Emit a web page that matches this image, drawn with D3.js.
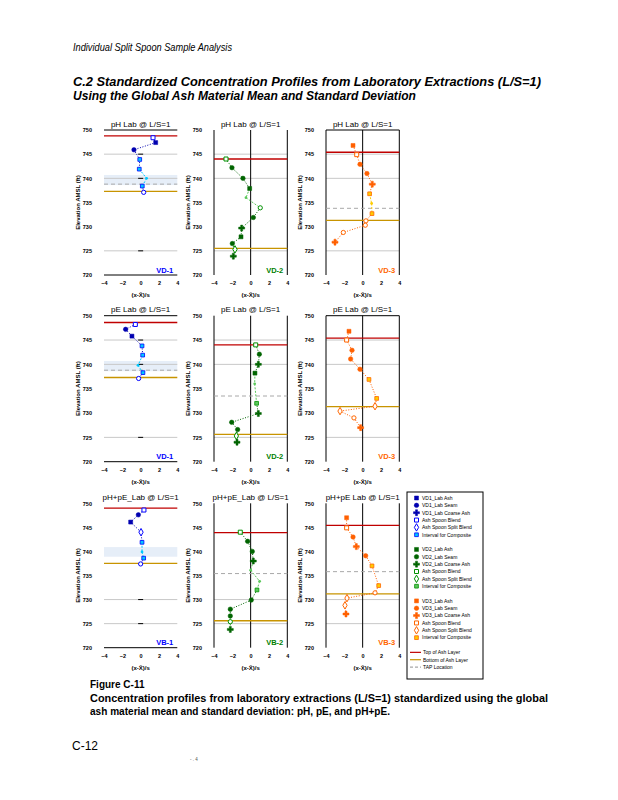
<!DOCTYPE html>
<html><head><meta charset="utf-8">
<script src="https://cdn.jsdelivr.net/npm/d3@7"></script>
<style>
body{margin:0;background:#fff}
svg{display:block}
text{font-family:"Liberation Sans",Arial,sans-serif}
</style>
</head><body><svg id="c" width="618" height="800"></svg>
<script>
// ---------------- DATA ----------------
const panelTitles = ["pH Lab @ L/S=1","pH Lab @ L/S=1","pH Lab @ L/S=1",
                     "pE Lab @ L/S=1","pE Lab @ L/S=1","pE Lab @ L/S=1",
                     "pH+pE_Lab @ L/S=1","pH+pE_Lab @ L/S=1","pH+pE Lab @ L/S=1"];
const panelLabels = ["VD-1","VD-2","VD-3","VD-1","VD-2","VD-3","VB-1","VB-2","VB-3"];
const xTicks = [-4,-2,0,2,4];
const yTicks = [720,725,730,735,740,745,750];
const rowGrid = [[745,740,725],[745,740,725],[730,725]];

// [standardized value, elevation ft, marker type]
const ph_vd1 = [[1.35,748.4,'B'],[1.64,747.4,'A'],[-0.73,745.9,'S'],[-0.1,743.9,'I'],[-0.15,741.9,'I'],[0.65,740.0,'L'],[0.18,738.4,'I'],[0.33,737.1,'O']];
const ph_vd2 = [[-2.69,744.0,'B'],[-2.04,742.2,'S'],[-0.84,740.0,'S'],[-0.11,737.9,'A'],[-0.51,736.0,'L'],[1.05,733.9,'O'],[0.29,731.9,'S'],[-0.98,729.7,'C'],[-1.05,727.9,'A'],[-2.0,726.5,'S'],[-1.71,725.3,'D'],[-1.89,723.9,'C']];
const ph_vd3 = [[-1.05,746.8,'A'],[-0.65,744.9,'B'],[-0.29,742.9,'S'],[0.47,741.0,'S'],[1.05,738.8,'C'],[0.76,736.8,'I'],[0.98,734.8,'L'],[1.02,732.7,'I'],[0.36,731.2,'O'],[0.29,730.3,'O'],[-2.11,728.8,'O'],[-3.02,726.8,'C']];
const pe_vd1 = [[-0.58,748.2,'B'],[-1.64,747.2,'S'],[-0.95,745.8,'A'],[0.15,743.8,'I'],[0.22,741.9,'I'],[-0.29,739.8,'L'],[0.25,738.3,'I'],[-0.22,737.1,'O']];
const pe_vd2 = [[0.55,744.0,'B'],[0.95,742.1,'S'],[0.84,740.0,'C'],[0.47,738.2,'A'],[0.44,736.0,'L'],[0.65,732.0,'I'],[0.84,729.9,'C'],[-2.07,728.1,'S'],[-1.42,726.6,'S'],[-1.56,725.3,'D'],[-1.49,724.0,'C']];
const pe_vd3 = [[-1.49,746.8,'A'],[-1.75,745.0,'B'],[-1.16,742.9,'S'],[-1.31,741.1,'S'],[-0.29,739.0,'S'],[0.69,736.9,'I'],[1.53,733.0,'I'],[1.35,731.4,'D'],[-2.47,730.4,'D'],[-0.95,729.0,'O'],[-0.22,727.0,'C']];
const pp_vb1 = [[0.36,748.6,'B'],[-0.25,747.6,'S'],[-1.09,746.1,'A'],[0.04,744.0,'D'],[0.15,741.9,'I'],[0.15,739.9,'L'],[0.33,738.6,'I'],[0.0,737.4,'O']];
const pp_vb2 = [[-1.13,744.0,'B'],[-0.33,742.1,'S'],[0.18,740.0,'S'],[0.29,738.0,'C'],[0.0,736.1,'L'],[0.98,733.8,'L'],[0.69,732.0,'I'],[0.07,729.9,'S'],[-2.22,728.0,'S'],[-2.22,726.6,'S'],[-2.22,725.4,'O'],[-2.22,723.8,'C']];
const pp_vb3 = [[-1.75,747.0,'A'],[-1.75,744.9,'B'],[-1.05,743.0,'S'],[-0.69,741.0,'C'],[0.33,739.1,'S'],[1.02,737.0,'I'],[1.75,732.9,'I'],[1.35,731.4,'O'],[-1.71,730.3,'D'],[-1.93,728.8,'D'],[-1.82,727.0,'C']];
const panelData = [ph_vd1,ph_vd2,ph_vd3,pe_vd1,pe_vd2,pe_vd3,pp_vb1,pp_vb2,pp_vb3];

const topOfAsh    = [748.8,744.0,745.4,748.6,744.0,745.4,749.0,743.9,745.4];
const bottomOfAsh = [737.3,725.5,731.3,737.3,725.6,731.3,737.5,725.6,731.2];
const tapLevel    = [738.8,null,733.8,738.8,733.5,null,null,735.4,735.8];
const compositeBand = [[738.6,740.7],null,null,[738.6,740.7],null,null,[738.9,740.9],null,null];

const legendGroup1 = ["VD1_Lab Ash","VD1_Lab Seam","VD1_Lab Coarse Ash","Ash Spoon Blend","Ash Spoon Split Blend","Interval for Composite"];
const legendGroup2 = ["VD2_Lab Ash","VD2_Lab Seam","VD2_Lab Coarse Ash","Ash Spoon Blend","Ash Spoon Split Blend","Interval for Composite"];
const legendGroup3 = ["VD3_Lab Ash","VD3_Lab Seam","VD3_Lab Coarse Ash","Ash Spoon Blend","Ash Spoon Split Blend","Interval for Composite"];
const legendTypes  = ['A','S','C','B','D','I'];
const legendLines  = ["Top of Ash Layer","Bottom of Ash Layer","TAP Location"];

// ---------------- STYLE / LAYOUT ----------------
const groupColors = [
  {dark:"#0000b0", mid:"#0000ff", light:"#00c8ff", label:"#0000ff"},
  {dark:"#006400", mid:"#009000", light:"#5cc85c", label:"#008000"},
  {dark:"#ff6000", mid:"#ff6600", light:"#ffcc00", label:"#ff6600"}
];
const colX = [[104,177.3],[214,287.3],[326,399.3]];
const rowY = [[130,275],[315.7,461.7],[503.3,647.7]];
const frameTop    = [true,false,true,true,false,true,false,false,false];
const frameBottom = [true,false,false,true,false,false,true,false,false];

const svg = d3.select("#c");
svg.append("rect").attr("width",618).attr("height",800).attr("fill","#fff");

// header
svg.append("text").attr("x",73).attr("y",51).attr("font-family","Liberation Serif,serif")
  .attr("font-style","italic").attr("font-size",10).attr("textLength",159).attr("lengthAdjust","spacingAndGlyphs")
  .text("Individual Split Spoon Sample Analysis");
svg.append("text").attr("x",73).attr("y",86).attr("font-weight","bold").attr("font-style","italic")
  .attr("font-size",12).attr("textLength",468).attr("lengthAdjust","spacingAndGlyphs")
  .text("C.2 Standardized Concentration Profiles from Laboratory Extractions (L/S=1)");
svg.append("text").attr("x",73).attr("y",100).attr("font-weight","bold").attr("font-style","italic")
  .attr("font-size",12).attr("textLength",343).attr("lengthAdjust","spacingAndGlyphs")
  .text("Using the Global Ash Material Mean and Standard Deviation");

function symFor(t){
  const map = {A:[d3.symbolSquare,16],S:[d3.symbolCircle,16],C:[d3.symbolCross,20],
               B:[d3.symbolSquare,16],D:[d3.symbolDiamond,16],O:[d3.symbolCircle,14],
               I:[d3.symbolSquare,14],L:[d3.symbolCircle,6]};
  const m = map[t];
  return d3.symbol().type(m[0]).size(m[1])();
}
function styleMarker(sel, t, g){
  const c = groupColors[g];
  if (t==='A'||t==='S'||t==='C') sel.attr("fill",c.dark).attr("stroke",c.dark).attr("stroke-width",0.5);
  else if (t==='B'||t==='D'||t==='O') sel.attr("fill","#fff").attr("stroke",c.mid).attr("stroke-width",1);
  else if (t==='I') sel.attr("fill",c.light).attr("stroke",c.mid).attr("stroke-width",0.8);
  else sel.attr("fill",c.light).attr("stroke","none");
}

panelData.forEach((data, i) => {
  const row = Math.floor(i/3), col = i%3;
  const x = d3.scaleLinear().domain([-4,4]).range(colX[col]);
  const y = d3.scaleLinear().domain([720,750]).range([rowY[row][1], rowY[row][0]]);
  const g = svg.append("g");
  const [x0,x1] = x.range();
  const c = groupColors[col];

  // composite band
  if (compositeBand[i]) {
    g.append("rect").attr("x",x0).attr("width",x1-x0)
      .attr("y",y(compositeBand[i][1])).attr("height",y(compositeBand[i][0])-y(compositeBand[i][1]))
      .attr("fill","#e6eef8");
  }
  // grid
  rowGrid[row].forEach(v => {
    g.append("line").attr("x1",x0).attr("x2",x1).attr("y1",y(v)).attr("y2",y(v))
      .attr("stroke","#c8c8c8").attr("stroke-width",1);
  });
  // zero line / frame
  if (col===0) {
    rowGrid[row].forEach(v => {
      g.append("line").attr("x1",x(0)-2.5).attr("x2",x(0)+2.5).attr("y1",y(v)).attr("y2",y(v))
        .attr("stroke","#000").attr("stroke-width",1);
    });
  } else {
    [-4,0,4].forEach(v => {
      g.append("line").attr("x1",x(v)).attr("x2",x(v)).attr("y1",y(750)).attr("y2",y(720))
        .attr("stroke","#000").attr("stroke-width",1);
    });
  }
  if (frameTop[i]) g.append("line").attr("x1",x0).attr("x2",x1).attr("y1",y(750)).attr("y2",y(750)).attr("stroke","#000");
  if (frameBottom[i]) g.append("line").attr("x1",x0).attr("x2",x1).attr("y1",y(720)).attr("y2",y(720)).attr("stroke","#000");

  // reference lines
  if (tapLevel[i]!==null) g.append("line").attr("x1",x0).attr("x2",x1).attr("y1",y(tapLevel[i])).attr("y2",y(tapLevel[i]))
      .attr("stroke","#a8a8a8").attr("stroke-width",1).attr("stroke-dasharray","4,3");
  g.append("line").attr("x1",x0).attr("x2",x1).attr("y1",y(topOfAsh[i])).attr("y2",y(topOfAsh[i]))
      .attr("stroke","#c00000").attr("stroke-width",1.3);
  g.append("line").attr("x1",x0).attr("x2",x1).attr("y1",y(bottomOfAsh[i])).attr("y2",y(bottomOfAsh[i]))
      .attr("stroke","#c89400").attr("stroke-width",1.3);

  // dotted profile
  const sorted = data.slice().sort((a,b)=>b[1]-a[1]);
  for (let k=0;k<sorted.length-1;k++){
    const a = sorted[k], b = sorted[k+1];
    const lightSeg = (a[2]==='L'||b[2]==='L');
    g.append("line").attr("x1",x(a[0])).attr("y1",y(a[1])).attr("x2",x(b[0])).attr("y2",y(b[1]))
      .attr("stroke", lightSeg ? c.light : c.dark).attr("stroke-width",1)
      .attr("stroke-dasharray", lightSeg ? "2,1.5" : "1,1.6");
  }
  // markers
  data.forEach(d => {
    const p = g.append("path").attr("d",symFor(d[2]))
      .attr("transform",`translate(${x(d[0])},${y(d[1])})`);
    styleMarker(p, d[2], col);
  });

  // axes
  const ya = g.append("g").attr("transform",`translate(${x0},0)`)
    .call(d3.axisLeft(y).tickValues(yTicks).tickSize(0).tickPadding(12).tickFormat(d3.format("d")));
  ya.select(".domain").remove();
  ya.selectAll("text").attr("font-size",5.5).attr("font-weight","bold").attr("font-family","Liberation Sans,Arial,sans-serif");
  const xa = g.append("g").attr("transform",`translate(0,${y(720)})`)
    .call(d3.axisBottom(x).tickValues(xTicks).tickSize(0).tickPadding(6));
  xa.select(".domain").remove();
  xa.selectAll("text").attr("font-size",5.5).attr("font-weight","bold").attr("font-family","Liberation Sans,Arial,sans-serif");

  // titles / labels
  g.append("text").attr("x",(x0+x1)/2).attr("y",y(750)-3.5).attr("text-anchor","middle")
    .attr("font-size",8).text(panelTitles[i]);
  g.append("text").attr("x",(x0+x1)/2).attr("y",y(720)+22).attr("text-anchor","middle")
    .attr("font-size",6).attr("font-weight","bold").text("(x-X̄)/s");
  g.append("text").attr("transform",`translate(${x0-24},${(y(720)+y(750))/2}) rotate(-90)`)
    .attr("text-anchor","middle").attr("font-size",6).attr("font-weight","bold").text("Elevation AMSL (ft)");
  g.append("text").attr("x",x1-4).attr("y",y(720)-2.5).attr("text-anchor","end")
    .attr("font-size",7.5).attr("font-weight","bold").attr("fill",c.label).text(panelLabels[i]);
});

// ---------------- LEGEND ----------------
const lg = svg.append("g");
lg.append("rect").attr("x",407).attr("y",492).attr("width",76).attr("height",187)
  .attr("fill","#fff").attr("stroke","#000").attr("stroke-width",1);
const ly = k => 498 + k*7.35;
[legendGroup1,legendGroup2,legendGroup3].forEach((grp, gi) => {
  grp.forEach((lab, j) => {
    const yy = ly(gi*7 + j);
    const p = lg.append("path").attr("d",symFor(legendTypes[j])).attr("transform",`translate(416.5,${yy})`);
    styleMarker(p, legendTypes[j], gi);
    lg.append("text").attr("x",422).attr("y",yy+1.8).attr("font-size",5).text(lab);
  });
});
const lineStyles = [{c:"#c00000",d:null},{c:"#c89400",d:null},{c:"#a8a8a8",d:"3,2"}];
legendLines.forEach((lab,j)=>{
  const yy = ly(21+j);
  lg.append("line").attr("x1",410).attr("x2",421).attr("y1",yy).attr("y2",yy)
    .attr("stroke",lineStyles[j].c).attr("stroke-width",1.2).attr("stroke-dasharray",lineStyles[j].d);
  lg.append("text").attr("x",423).attr("y",yy+1.8).attr("font-size",5).text(lab);
});

// ---------------- CAPTION ----------------
svg.append("text").attr("x",90).attr("y",688).attr("font-size",10).attr("font-weight","bold").text("Figure C-11");
svg.append("text").attr("x",90).attr("y",702).attr("font-size",10).attr("font-weight","bold")
  .attr("textLength",458).attr("lengthAdjust","spacingAndGlyphs")
  .text("Concentration profiles from laboratory extractions (L/S=1) standardized using the global");
svg.append("text").attr("x",90).attr("y",715).attr("font-size",10).attr("font-weight","bold")
  .attr("textLength",300).attr("lengthAdjust","spacingAndGlyphs")
  .text("ash material mean and standard deviation: pH, pE, and pH+pE.");
svg.append("text").attr("x",72).attr("y",750).attr("font-family","Liberation Serif,serif").attr("font-size",12).text("C-12");
svg.append("text").attr("x",190).attr("y",761).attr("font-size",4.5).attr("fill","#555").text("- . 4");
</script>
</body></html>
